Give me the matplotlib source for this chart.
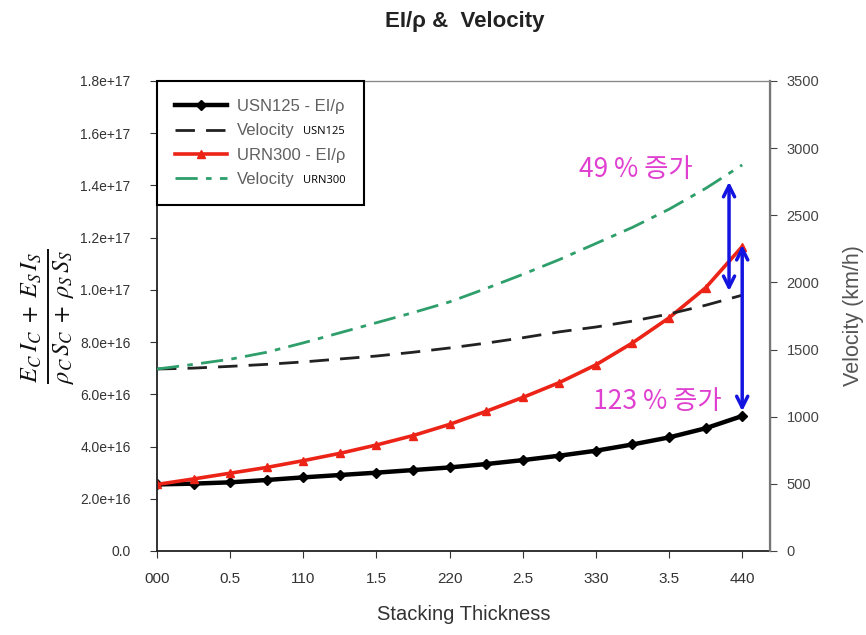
import numpy as np
import matplotlib
matplotlib.use("Agg")
import matplotlib.pyplot as plt

plt.rcParams['font.family'] = ['Liberation Sans', 'DejaVu Sans']

# stacking thickness positions (0 .. 4, step 0.25)
thick = [0.0, 0.25, 0.5, 0.75, 1.0, 1.25, 1.5, 1.75, 2.0,
         2.25, 2.5, 2.75, 3.0, 3.25, 3.5, 3.75, 4.0]

# EI/rho (left axis)
usn125_ei = [2.55e16, 2.58e16, 2.63e16, 2.72e16, 2.82e16, 2.91e16, 3.00e16, 3.10e16, 3.20e16,
             3.33e16, 3.48e16, 3.65e16, 3.84e16, 4.08e16, 4.35e16, 4.70e16, 5.17e16]
urn300_ei = [2.55e16, 2.76e16, 2.98e16, 3.20e16, 3.46e16, 3.74e16, 4.06e16, 4.42e16, 4.85e16,
             5.35e16, 5.88e16, 6.45e16, 7.13e16, 7.97e16, 8.93e16, 10.08e16, 11.66e16]

# velocity (right axis, km/h)
usn125_vel = [1355, 1362, 1375, 1390, 1408, 1430, 1452, 1480, 1512,
              1548, 1588, 1632, 1668, 1712, 1765, 1830, 1905]
urn300_vel = [1355, 1390, 1428, 1480, 1550, 1625, 1700, 1775, 1855,
              1955, 2060, 2170, 2290, 2410, 2545, 2700, 2875]

xtick_pos = [0, 0.5, 1, 1.5, 2, 2.5, 3, 3.5, 4]
xtick_labels = ["000", "0.5", "110", "1.5", "220", "2.5", "330", "3.5", "440"]
ytick_pos = [0, 2e16, 4e16, 6e16, 8e16, 1e17, 1.2e17, 1.4e17, 1.6e17, 1.8e17]
ytick_labels = ["0.0", "2.0e+16", "4.0e+16", "6.0e+16", "8.0e+16", "1.0e+17",
                "1.2e+17", "1.4e+17", "1.6e+17", "1.8e+17"]
vtick_pos = [0, 500, 1000, 1500, 2000, 2500, 3000, 3500]

fig = plt.figure(figsize=(8.66, 6.35), dpi=100)
ax = fig.add_axes([157/866, 1-551/635, 613/866, 470/635])
ax2 = ax.twinx()

l1, = ax.plot(thick, usn125_ei, color='black', lw=3.2, marker='D', ms=5,
              label="USN125 - EI/\u03c1")
l2, = ax2.plot(thick, usn125_vel, color='#222222', lw=2, ls=(0, (7, 4)),
               label="Velocity")
l3, = ax.plot(thick, urn300_ei, color='#ec2418', lw=2.6, marker='^', ms=6,
              label="URN300 - EI/\u03c1")
l4, = ax2.plot(thick, urn300_vel, color='#2e9e6a', lw=2, ls=(0, (8, 3, 2, 3)),
               label="Velocity")

ax.set_xlim(0, 4.19)
ax.set_ylim(0, 1.8e17)
ax2.set_ylim(0, 3500)

ax.set_xticks(xtick_pos)
ax.set_xticklabels(xtick_labels)
ax.set_yticks(ytick_pos)
ax.set_yticklabels(ytick_labels)
ax2.set_yticks(vtick_pos)

ax.tick_params(axis='x', direction='out', labelsize=11, colors='#333333', length=5, pad=10)
ax.tick_params(axis='y', direction='out', labelsize=10, colors='#333333', length=5, pad=14)
ax2.tick_params(axis='y', direction='out', labelsize=10.5, colors='#444444', length=5, pad=7)
for s in ['left', 'bottom']:
    ax.spines[s].set_color('#222222')
    ax.spines[s].set_linewidth(1.3)
ax2.spines['right'].set_color('#777777')
ax2.spines['right'].set_linewidth(1.6)
ax2.spines['top'].set_color('#888888')
ax2.spines['left'].set_visible(False)
ax2.spines['bottom'].set_visible(False)

ax.set_xlabel("Stacking Thickness", fontsize=14.5, color='#333333', labelpad=14)
ax2.set_ylabel("Velocity (km/h)", fontsize=15.5, color='#555555', labelpad=17)
ax.set_ylabel(r"$\frac{E_C\,I_C\;+\;E_S\,I_S}{\rho_C\,S_C\;+\;\rho_S\,S_S}$",
              fontsize=25, math_fontfamily='stix', color='#111111')
ax.yaxis.set_label_coords(-0.13, 0.5)

fig.text(465/866, 1-22/635, "EI/\u03c1 &  Velocity", ha='center', va='center',
         fontsize=16, fontweight='bold', color='#222222')

leg = ax2.legend([l1, l2, l3, l4], [l.get_label() for l in (l1, l2, l3, l4)],
                 loc='upper left', borderaxespad=0, fontsize=12, handlelength=3.1,
                 handletextpad=0.6, borderpad=1.1, labelspacing=0.55,
                 fancybox=False, framealpha=1)
leg.get_frame().set_edgecolor('black')
leg.get_frame().set_linewidth(1.5)
for t in leg.get_texts():
    t.set_color('#606060')
fig.canvas.draw()
txts = leg.get_texts()
for t, sub in ((txts[1], "USN125"), (txts[3], "URN300")):
    bb = t.get_window_extent()
    fig.text((bb.x1 + 8) / 866, (bb.y0 + 1) / 635, sub, fontsize=8, color='black',
             ha='left', va='bottom', family=['Open Sans', 'DejaVu Sans'])

# increase arrows
ax2.annotate("", xy=(3.91, 2770), xytext=(3.91, 1915),
             arrowprops=dict(arrowstyle='<->', color='#1414e0', lw=2.5, mutation_scale=20))
ax2.annotate("", xy=(4.0, 2300), xytext=(4.0, 1020),
             arrowprops=dict(arrowstyle='<->', color='#1414e0', lw=2.5, mutation_scale=20))
ax2.text(3.27, 2840, "49 % 증가", ha='center', va='center', fontsize=19, color='#e040d0',
         family=['Noto Sans CJK KR', 'DejaVu Sans'])
ax2.text(3.42, 1110, "123 % 증가", ha='center', va='center', fontsize=19, color='#e040d0',
         family=['Noto Sans CJK KR', 'DejaVu Sans'])

fig.savefig("out.png", dpi=100)
